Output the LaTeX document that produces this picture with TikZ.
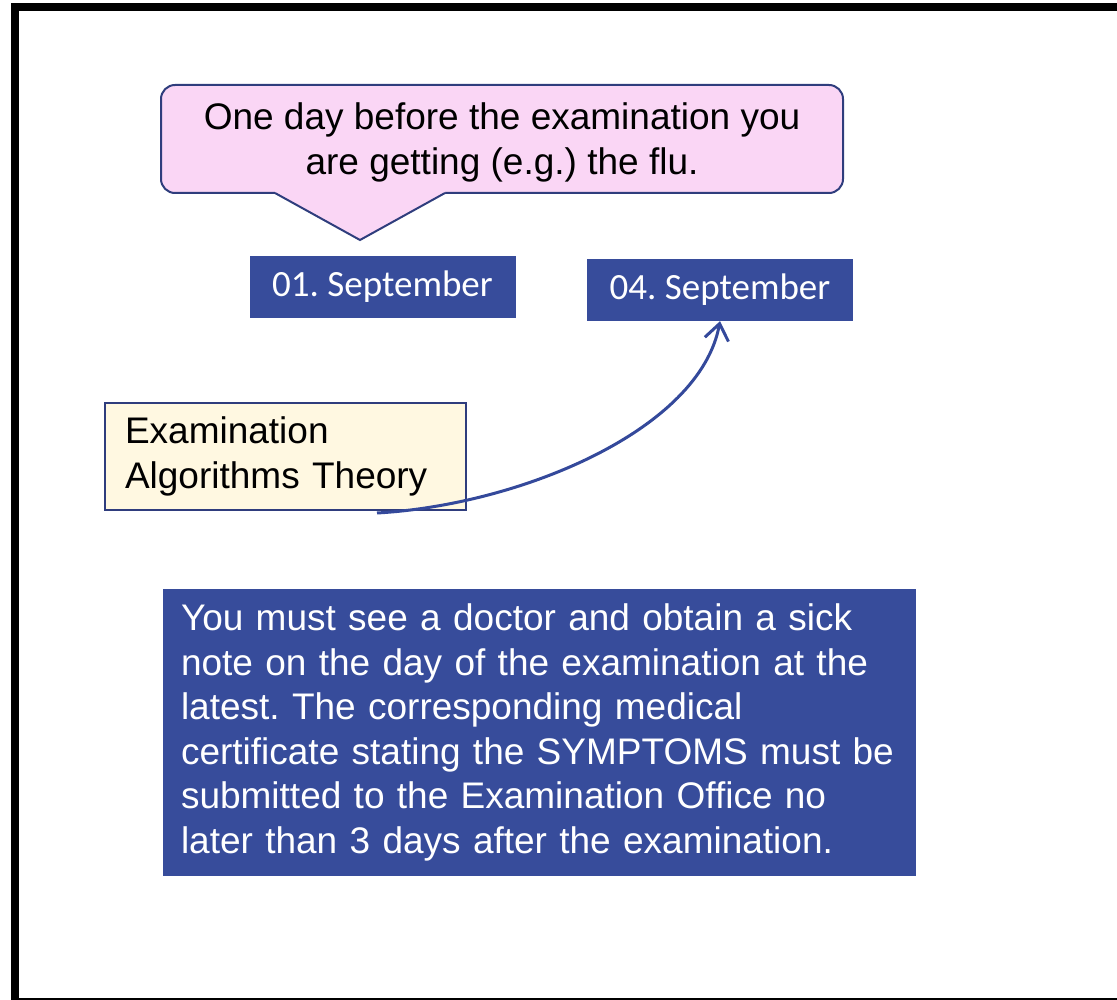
\documentclass[tikz,border=0pt]{standalone}
\usepackage{fontspec}
\setmainfont{Liberation Sans}
\newfontfamily\datefont{Carlito}
\usetikzlibrary{positioning,arrows.meta}
\definecolor{navyline}{HTML}{2F3D7D}
\definecolor{boxblue}{HTML}{374C9B}
\definecolor{arrowblue}{HTML}{34499B}
\definecolor{calloutpink}{HTML}{FAD6F5}
\definecolor{notecream}{HTML}{FFF8E1}
\tikzset{
  datebox/.style={fill=boxblue, text=white, minimum width=266pt, minimum height=62pt,
    inner sep=0pt, font=\datefont\fontsize{37}{44}\selectfont},
  bigtext/.style={font=\fontsize{37}{45}\selectfont},
  flow/.style={draw=arrowblue, line width=3pt, -{Straight Barb[length=16pt,width=24pt]}}
}
\frenchspacing

\begin{document}
\begin{tikzpicture}[x=1pt,y=-1pt]
% Define the page and its frame
\clip (0,0) rectangle (1117,1000);
\useasboundingbox (0,0) rectangle (1117,1000);
\draw[line width=8pt] (15,7) rectangle (1150,1002);

% Draw the speech bubble
\draw[navyline, line width=2pt, fill=calloutpink, rounded corners=14pt] (161,85) rectangle (843,193);
\fill[calloutpink] (275,190) -- (275,193) -- (360,240) -- (445,193) -- (445,190) -- cycle;
\draw[navyline, line width=2pt, line join=miter] (275,193) -- (360,240) -- (445,193);
\node[bigtext, align=center] (flu) at (502,142)
  {One day before the examination you\\are getting (e.g.) the flu.};

% Draw the two dates
\node[datebox] (date1) at (382.5,287) {01. September};
\node[datebox] (date2) at (720,290) {04. September};

% Draw the examination note
\node[bigtext, draw=navyline, line width=2pt, fill=notecream, minimum width=361pt,
  minimum height=107pt, text width=321pt, inner xsep=20pt, align=left] (exam) at (285.5,456)
  {Examination\\Algorithms Theory};

% Draw the arrow to the new date
\coordinate (exstart) at (377,513);
\draw[flow] (exstart) .. controls (520,505) and (700,430) .. (date2.south);

% Draw the rule box
\node[bigtext, fill=boxblue, text=white, minimum width=753pt, minimum height=287pt,
  text width=717pt, inner xsep=18pt, align=left, font=\fontsize{37}{44.6}\selectfont] (rule) at (539.5,732.5)
  {You must see a doctor and obtain a sick\\
   note on the day of the examination at the\\
   latest. The corresponding medical\\
   certificate stating the SYMPTOMS must be\\
   submitted to the Examination Office no\\
   later than 3 days after the examination.};
\end{tikzpicture}
\end{document}
